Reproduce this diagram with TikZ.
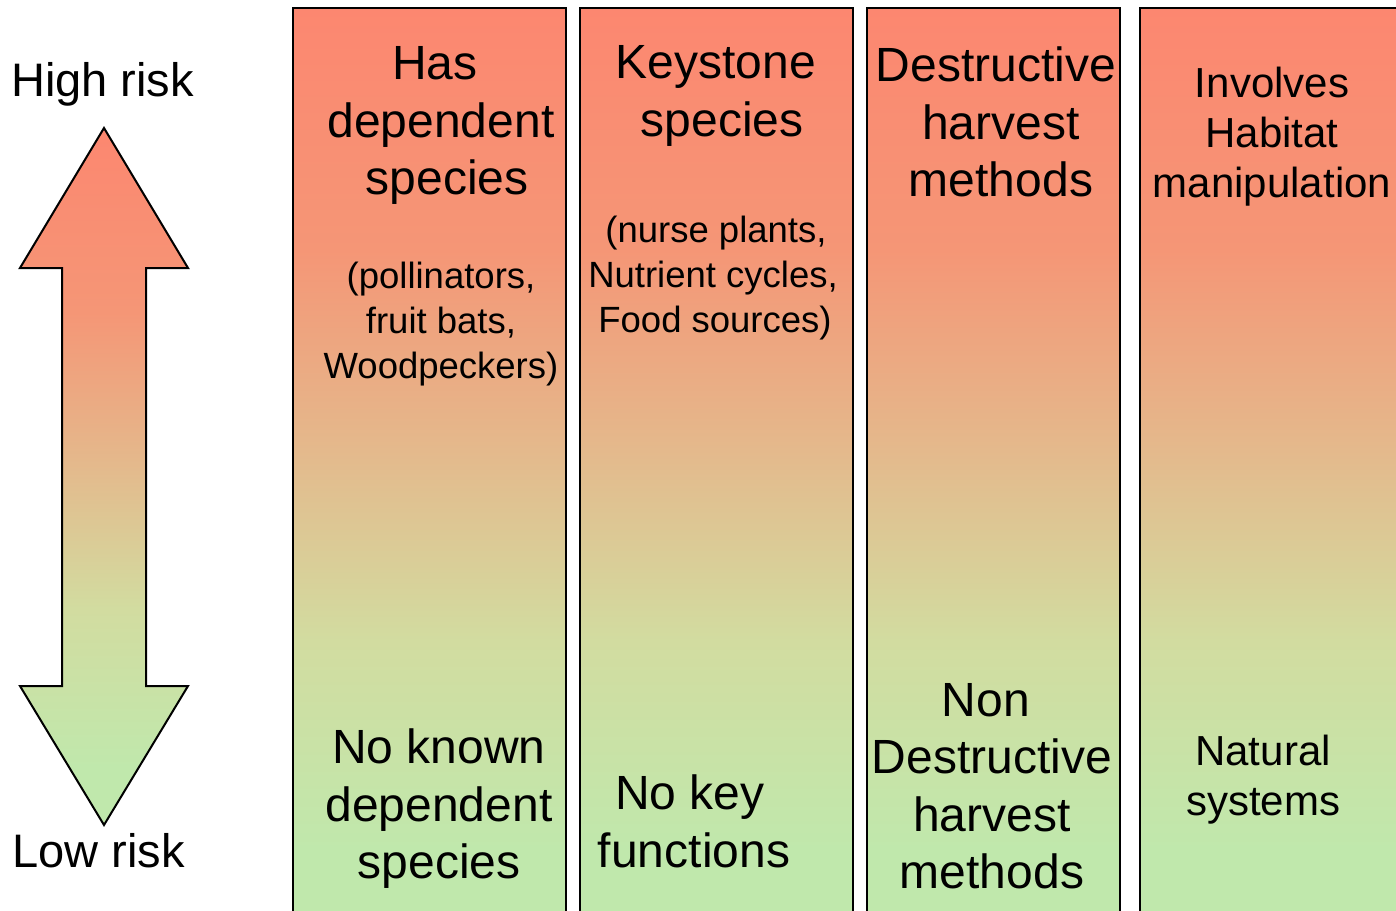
\documentclass[tikz,border=0pt]{standalone}
\usepackage{fontspec}
\setmainfont{Liberation Sans}
\definecolor{hi}{RGB}{252,135,112}
\definecolor{hiB}{RGB}{245,150,118}
\definecolor{midA}{RGB}{228,185,140}
\definecolor{midB}{RGB}{210,220,160}
\definecolor{lo}{RGB}{192,232,172}
\pgfdeclareverticalshading{riskshade}{100bp}{color(0bp)=(lo); color(25bp)=(lo); color(29.1bp)=(lo); color(40.5bp)=(midB); color(50.9bp)=(midA); color(61.8bp)=(hiB); color(75bp)=(hi); color(100bp)=(hi)}
\begin{document}
\begin{tikzpicture}[x=1pt,y=-1pt,
  col/.style={draw=black, line width=2pt, shading=riskshade},
  arrowshape/.style={draw=black, line width=2pt, line join=miter, shading=riskshade},
  big/.style={font=\fontsize{48}{57.5}\selectfont, align=center, anchor=north, inner sep=0pt},
  small/.style={font=\fontsize{36.5}{45}\selectfont, align=center, anchor=north, inner sep=0pt},
  mid/.style={font=\fontsize{42}{50}\selectfont, align=center, anchor=north, inner sep=0pt},
  side/.style={font=\fontsize{47}{56}\selectfont, anchor=base west, inner sep=0pt}]
\useasboundingbox (0,0) rectangle (1396,910);
\fill[white] (0,0) rectangle (1396,910);
\begin{scope}
\clip (0,0) rectangle (1396,910);
\shade[col] (293,8) rectangle (566,925);
\shade[col] (580,8) rectangle (853,925);
\shade[col] (867,8) rectangle (1120,925);
\shade[col] (1140,8) rectangle (1420,925);
\end{scope}
\shade[arrowshape] (104,128) -- (188,268) -- (146,268) -- (146,686) -- (188,686) -- (104,825) -- (20,686) -- (62,686) -- (62,268) -- (20,268) -- cycle;

\node[side] (high) at (11,96) {High risk};
\node[side] (low) at (12,867) {Low risk};

\node[big] (c1t) at (441,46.6) {Has\hspace*{12pt}\\dependent\\\hspace*{12pt}species};
\node[small] (c1s) at (441,262) {(pollinators,\\fruit bats,\\Woodpeckers)};
\node[big] (c2t) at (716,45.6) {Keystone\\\hspace*{12pt}species};
\node[small] (c2s) at (713,216) {\hspace*{6pt}(nurse plants,\\Nutrient cycles,\hspace*{8pt}\\\hspace*{4pt}Food sources)};
\node[big] (c3t) at (996,46.6) {Destructive\\\hspace*{10pt}harvest\\\hspace*{10pt}methods};
\node[mid] (c4t) at (1272,67) {Involves\\Habitat\\manipulation};

\node[big] (c1b) at (439,728.6) {No known\\dependent\\species};
\node[big] (c2b) at (694,775) {No key\hspace*{8pt}\\functions};
\node[big] (c3b) at (992,683) {Non\hspace*{12pt}\\Destructive\\harvest\\methods};
\node[mid] (c4b) at (1263,735) {Natural\\systems};
\end{tikzpicture}
\end{document}
